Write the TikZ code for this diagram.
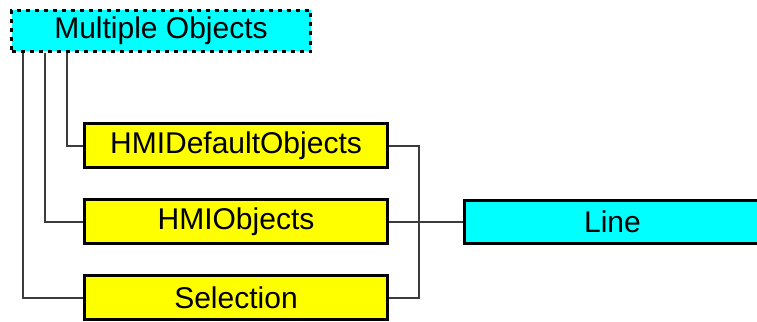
\documentclass[tikz,border=0pt]{standalone}
\usepackage{fontspec}
\setmainfont{Liberation Sans}
\usepackage{tikz}
\usetikzlibrary{positioning}

\definecolor{objcyan}{HTML}{00FFFF}
\definecolor{objyellow}{HTML}{FFFF00}
\definecolor{linkgray}{HTML}{3C3C3C}

\begin{document}
\begin{tikzpicture}[
	    x=1pt, y=-1pt,
	    every node/.style={rectangle, inner sep=0pt, font=\fontsize{30}{34}\selectfont},
	    collbox/.style={draw, line width=3.5pt, fill=objcyan, dash pattern=on 4pt off 5pt, minimum width=299pt, minimum height=41pt},
	    objbox/.style={draw, line width=3pt, fill=objyellow, minimum width=303pt, minimum height=44pt},
	    leafbox/.style={draw, line width=3pt, fill=objcyan, minimum width=296pt, minimum height=43pt},
	    link/.style={draw=linkgray, line width=2pt}
	]
		\useasboundingbox (0,0) rectangle (757,321);

		\node[collbox] (mo) at (161,31) {Multiple Objects};

		\node[objbox] (hdo) at (236,145.5) {HMIDefaultObjects};
		\node[objbox] (hmi) at (236,221.5) {HMIObjects};
		\node[objbox] (sel) at (236,297.5) {Selection};

		\node[leafbox] (line) at (612.5,221.5) {Line};

		\coordinate (bus) at (419,145.5);

		\draw[link] ([xshift=13.5pt]mo.south west) |- (sel.west);
		\draw[link] ([xshift=35.5pt]mo.south west) |- (hmi.west);
		\draw[link] ([xshift=57.5pt]mo.south west) |- (hdo.west);

		\draw[link] (hdo.east) -- (bus) |- (sel.east);
		\draw[link] (hmi.east) -- (line.west);
	\end{tikzpicture}
\end{document}
